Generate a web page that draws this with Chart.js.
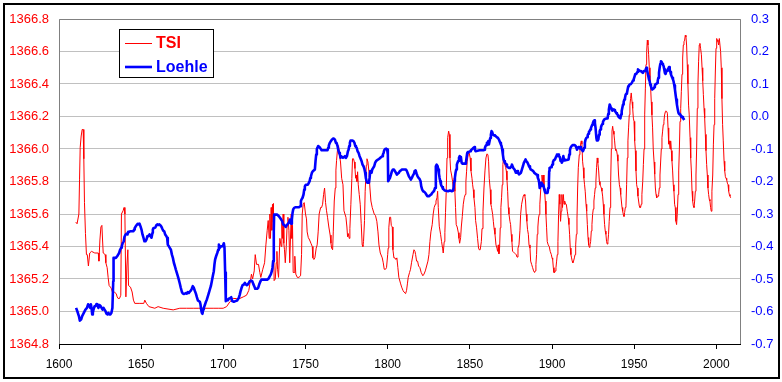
<!DOCTYPE html>
<html>
<head>
<meta charset="utf-8">
<title>TSI / Loehle</title>
<script src="https://cdn.jsdelivr.net/npm/chart.js@4.4.1/dist/chart.umd.min.js"></script>
<style>
  html, body { margin: 0; padding: 0; background: #fff; }
  canvas { display: block; }
</style>
</head>
<body>
<canvas id="chart" width="782" height="382"></canvas>
<script>
// tick labels
const xTicks = [1600, 1650, 1700, 1750, 1800, 1850, 1900, 1950, 2000];
const tsiTicks = [1364.8, 1365.0, 1365.2, 1365.4, 1365.6, 1365.8, 1366.0, 1366.2, 1366.4, 1366.6, 1366.8];
const loehleTicks = [-0.7, -0.6, -0.5, -0.4, -0.3, -0.2, -0.1, 0.0, 0.1, 0.2, 0.3];

// TSI (W/m2), [year, value]
const tsiPoints = [
  [1610.2,1365.55],[1611.0,1365.54],[1612.1,1365.60],[1612.5,1365.81],[1612.9,1366.01],[1613.5,1366.08],
  [1614.1,1366.12],[1614.7,1366.12],[1615.1,1365.94],[1615.5,1365.67],[1616.1,1365.48],[1616.7,1365.35],
  [1617.2,1365.35],[1617.9,1365.28],[1618.7,1365.36],[1619.8,1365.37],[1621.8,1365.36],[1623.9,1365.36],
  [1624.3,1365.31],[1624.9,1365.44],[1625.5,1365.52],[1626.1,1365.53],[1626.5,1365.44],[1626.9,1365.36],
  [1628.1,1365.35],[1628.5,1365.30],[1629.3,1365.27],[1629.9,1365.21],[1630.5,1365.16],[1631.3,1365.15],
  [1631.9,1365.14],[1632.5,1365.12],[1633.6,1365.12],[1634.8,1365.11],[1635.4,1365.09],[1636.0,1365.08],
  [1636.8,1365.08],[1637.6,1365.10],[1638.0,1365.60],[1639.0,1365.62],[1639.6,1365.64],[1640.1,1365.60],
  [1640.7,1365.09],[1641.3,1365.28],[1641.9,1365.38],[1642.3,1365.16],[1643.5,1365.15],[1644.5,1365.12],
  [1645.3,1365.07],[1646.1,1365.05],[1649.2,1365.05],[1651.6,1365.05],[1652.2,1365.07],[1653.2,1365.05],
  [1654.7,1365.03],[1658.3,1365.02],[1660.3,1365.03],[1663.4,1365.02],[1669.5,1365.01],[1673.5,1365.02],
  [1677.6,1365.02],[1681.7,1365.02],[1684.7,1365.02],[1687.7,1365.02],[1693.8,1365.02],[1696.9,1365.02],
  [1699.9,1365.02],[1702.0,1365.03],[1704.0,1365.06],[1705.0,1365.07],[1706.0,1365.08],[1708.0,1365.08],
  [1710.0,1365.08],[1712.1,1365.09],[1714.1,1365.10],[1715.5,1365.13],[1716.5,1365.19],[1717.1,1365.23],
  [1717.8,1365.20],[1718.8,1365.25],[1719.4,1365.35],[1720.2,1365.29],[1721.4,1365.29],[1722.2,1365.24],
  [1722.8,1365.21],[1724.0,1365.26],[1725.1,1365.30],[1725.9,1365.41],[1726.7,1365.50],[1727.3,1365.56],
  [1727.9,1365.45],[1728.3,1365.60],[1728.7,1365.45],[1729.1,1365.64],[1729.5,1365.50],[1729.9,1365.66],
  [1730.3,1365.55],[1730.5,1365.665],[1730.9,1365.19],[1731.6,1365.20],[1732.2,1365.30],[1732.6,1365.37],
  [1733.0,1365.26],[1733.6,1365.21],[1734.4,1365.45],[1735.2,1365.40],[1735.6,1365.55],[1736.0,1365.45],
  [1736.4,1365.60],[1736.8,1365.42],[1737.2,1365.38],[1737.7,1365.30],[1738.3,1365.40],[1738.8,1365.53],
  [1739.3,1365.58],[1739.9,1365.50],[1740.4,1365.30],[1741.3,1365.60],[1741.7,1365.45],[1742.1,1365.53],
  [1742.5,1365.24],[1743.1,1365.24],[1743.5,1365.34],[1744.1,1365.23],[1745.0,1365.21],[1746.0,1365.21],
  [1747.0,1365.22],[1747.6,1365.35],[1748.0,1365.60],[1748.6,1365.66],[1749.2,1365.67],[1750.0,1365.60],
  [1750.6,1365.57],[1751.0,1365.49],[1751.7,1365.455],[1752.5,1365.44],[1753.3,1365.42],[1754.1,1365.40],
  [1754.5,1365.33],[1755.1,1365.32],[1755.7,1365.33],[1756.5,1365.39],[1757.1,1365.41],[1757.7,1365.49],
  [1758.3,1365.60],[1759.2,1365.64],[1759.8,1365.64],[1760.4,1365.66],[1761.0,1365.72],[1761.6,1365.76],
  [1762.2,1365.67],[1762.8,1365.62],[1763.4,1365.58],[1764.2,1365.52],[1765.0,1365.47],[1765.5,1365.42],
  [1765.9,1365.39],[1766.5,1365.38],[1766.9,1365.49],[1767.5,1365.68],[1768.1,1365.76],[1768.5,1365.87],
  [1768.9,1365.93],[1769.5,1366.00],[1770.1,1366.02],[1770.7,1365.96],[1771.3,1365.92],[1772.0,1365.82],
  [1772.8,1365.78],[1773.4,1365.62],[1774.0,1365.60],[1774.6,1365.58],[1775.2,1365.52],[1775.6,1365.46],
  [1776.0,1365.48],[1776.6,1365.45],[1777.0,1365.51],[1777.6,1365.66],[1778.2,1365.82],[1778.6,1365.94],
  [1779.2,1365.94],[1779.7,1365.92],[1780.1,1365.88],[1780.5,1365.82],[1780.9,1365.84],[1781.3,1365.80],
  [1781.7,1365.86],[1782.1,1365.78],[1782.7,1365.72],[1783.3,1365.66],[1783.9,1365.54],[1784.5,1365.41],
  [1784.9,1365.40],[1785.3,1365.43],[1785.9,1365.56],[1786.3,1365.74],[1787.0,1365.90],[1787.4,1365.94],
  [1788.0,1365.92],[1788.6,1365.86],[1789.2,1365.76],[1789.8,1365.68],[1790.6,1365.64],[1791.8,1365.60],
  [1792.6,1365.59],[1793.4,1365.555],[1794.1,1365.49],[1794.7,1365.41],[1795.5,1365.36],[1796.7,1365.33],
  [1797.3,1365.30],[1797.9,1365.26],[1798.7,1365.26],[1799.3,1365.27],[1800.0,1365.35],[1800.3,1365.39],
  [1800.7,1365.515],[1801.2,1365.58],[1801.8,1365.58],[1802.2,1365.53],[1802.8,1365.52],[1803.2,1365.38],
  [1803.8,1365.33],[1804.4,1365.33],[1805.0,1365.32],[1805.6,1365.33],[1806.2,1365.27],[1806.8,1365.21],
  [1807.9,1365.17],[1808.5,1365.15],[1809.3,1365.13],[1809.9,1365.12],[1810.9,1365.11],[1811.5,1365.13],
  [1812.0,1365.17],[1812.5,1365.21],[1813.3,1365.24],[1813.9,1365.26],[1814.5,1365.30],[1815.4,1365.35],
  [1816.0,1365.38],[1816.6,1365.37],[1817.0,1365.35],[1817.6,1365.31],[1818.2,1365.31],[1818.8,1365.28],
  [1819.6,1365.27],[1820.4,1365.24],[1821.4,1365.22],[1822.1,1365.23],[1822.9,1365.25],[1823.7,1365.28],
  [1824.5,1365.31],[1825.1,1365.35],[1825.7,1365.43],[1826.3,1365.49],[1827.1,1365.535],[1827.7,1365.60],
  [1828.3,1365.64],[1829.0,1365.66],[1829.4,1365.68],[1830.0,1365.70],[1830.4,1365.74],[1830.8,1365.64],
  [1831.4,1365.525],[1832.2,1365.475],[1832.8,1365.43],[1833.4,1365.39],[1833.8,1365.36],[1834.4,1365.43],
  [1834.8,1365.485],[1835.2,1365.61],[1835.6,1365.73],[1836.1,1365.945],[1836.5,1366.07],[1837.1,1366.11],
  [1837.5,1366.09],[1837.9,1365.945],[1838.3,1365.87],[1838.9,1365.84],[1839.5,1365.80],[1840.1,1365.74],
  [1840.5,1365.82],[1840.9,1365.74],[1841.3,1365.64],[1841.7,1365.535],[1842.3,1365.52],[1843.0,1365.485],
  [1843.4,1365.45],[1843.8,1365.42],[1844.4,1365.455],[1844.8,1365.52],[1845.4,1365.585],[1846.0,1365.66],
  [1846.6,1365.70],[1847.2,1365.72],[1847.6,1365.80],[1848.0,1365.86],[1848.4,1365.925],[1849.0,1365.965],
  [1849.6,1365.975],[1850.2,1365.945],[1850.7,1365.865],[1851.3,1365.82],[1851.7,1365.78],[1852.1,1365.75],
  [1852.5,1365.70],[1853.1,1365.64],[1853.5,1365.56],[1854.1,1365.515],[1854.7,1365.45],[1855.3,1365.39],
  [1855.7,1365.38],[1856.3,1365.38],[1857.0,1365.43],[1857.4,1365.51],[1858.0,1365.617],[1858.6,1365.76],
  [1859.2,1365.865],[1859.8,1365.945],[1860.4,1365.97],[1861.0,1365.965],[1861.4,1365.925],[1861.8,1365.82],
  [1862.4,1365.75],[1862.8,1365.66],[1863.2,1365.64],[1863.9,1365.597],[1864.3,1365.555],[1864.7,1365.515],
  [1865.3,1365.475],[1865.9,1365.41],[1866.5,1365.39],[1866.9,1365.37],[1867.3,1365.41],[1867.7,1365.355],
  [1868.1,1365.39],[1868.5,1365.515],[1868.9,1365.64],[1869.3,1365.70],[1869.7,1365.78],[1870.1,1365.905],
  [1870.5,1365.945],[1870.9,1365.925],[1871.3,1365.905],[1871.8,1365.885],[1872.2,1365.865],[1872.6,1365.81],
  [1873.0,1365.74],[1873.4,1365.64],[1873.8,1365.60],[1874.4,1365.555],[1874.8,1365.535],[1875.2,1365.475],
  [1875.6,1365.43],[1876.0,1365.37],[1876.6,1365.365],[1877.2,1365.36],[1877.8,1365.355],[1878.2,1365.35],
  [1878.7,1365.335],[1879.3,1365.39],[1879.9,1365.41],[1880.5,1365.50],[1880.9,1365.597],[1881.5,1365.66],
  [1881.9,1365.68],[1882.5,1365.71],[1883.1,1365.72],[1883.5,1365.71],[1883.9,1365.68],[1884.3,1365.60],
  [1884.7,1365.555],[1885.1,1365.505],[1885.6,1365.475],[1886.0,1365.41],[1886.6,1365.39],[1887.0,1365.31],
  [1887.6,1365.29],[1888.2,1365.27],[1888.8,1365.25],[1889.4,1365.24],[1889.8,1365.25],[1890.2,1365.29],
  [1890.6,1365.35],[1891.0,1365.475],[1891.4,1365.52],[1891.8,1365.575],[1892.2,1365.597],[1892.6,1365.66],
  [1893.3,1365.78],[1893.9,1365.84],[1894.3,1365.80],[1894.7,1365.84],[1895.1,1365.78],[1895.5,1365.74],
  [1895.9,1365.68],[1896.3,1365.597],[1896.7,1365.515],[1897.1,1365.43],[1897.7,1365.41],[1898.3,1365.40],
  [1898.9,1365.37],[1899.6,1365.35],[1900.0,1365.33],[1900.4,1365.32],[1900.8,1365.27],[1901.2,1365.24],
  [1901.6,1365.24],[1902.0,1365.25],[1902.4,1365.27],[1902.8,1365.31],[1903.2,1365.35],[1903.6,1365.43],
  [1904.0,1365.597],[1904.4,1365.72],[1904.8,1365.66],[1905.2,1365.555],[1905.6,1365.617],[1906.0,1365.72],
  [1906.4,1365.64],[1906.9,1365.72],[1907.3,1365.66],[1907.7,1365.68],[1908.3,1365.66],[1908.7,1365.66],
  [1909.3,1365.617],[1909.9,1365.575],[1910.3,1365.535],[1910.7,1365.475],[1911.1,1365.39],[1911.5,1365.35],
  [1911.9,1365.33],[1912.3,1365.31],[1912.7,1365.30],[1913.1,1365.31],[1913.6,1365.33],[1914.0,1365.35],
  [1914.4,1365.41],[1914.8,1365.475],[1915.2,1365.575],[1915.6,1365.76],[1916.0,1365.885],[1916.6,1365.965],
  [1917.0,1366.00],[1917.4,1366.03],[1917.8,1366.05],[1918.2,1366.03],[1918.6,1365.925],[1919.0,1365.885],
  [1919.4,1365.82],[1919.8,1365.78],[1920.2,1365.74],[1920.7,1365.66],[1921.1,1365.617],[1921.5,1365.535],
  [1921.9,1365.455],[1922.3,1365.41],[1922.7,1365.395],[1923.1,1365.41],[1923.5,1365.43],[1923.9,1365.495],
  [1924.3,1365.535],[1924.7,1365.597],[1925.1,1365.63],[1925.5,1365.68],[1925.9,1365.72],[1926.3,1365.76],
  [1926.7,1365.80],[1927.1,1365.885],[1927.5,1365.945],[1927.9,1365.915],[1928.4,1365.865],[1928.8,1365.80],
  [1929.2,1365.78],[1929.6,1365.77],[1930.0,1365.76],[1930.4,1365.74],[1930.8,1365.71],[1931.2,1365.66],
  [1931.6,1365.597],[1932.0,1365.535],[1932.4,1365.495],[1932.8,1365.475],[1933.2,1365.43],[1933.6,1365.415],
  [1934.0,1365.43],[1934.4,1365.475],[1934.8,1365.555],[1935.3,1365.64],[1935.7,1365.80],[1936.1,1366.00],
  [1936.5,1366.11],[1936.9,1366.14],[1937.3,1366.11],[1937.7,1366.09],[1938.1,1366.05],[1938.5,1366.00],
  [1938.9,1365.99],[1939.3,1365.99],[1939.7,1365.965],[1940.1,1365.925],[1940.5,1365.84],[1941.0,1365.78],
  [1941.4,1365.76],[1941.8,1365.72],[1942.2,1365.68],[1942.6,1365.64],[1943.0,1365.617],[1943.4,1365.597],
  [1943.8,1365.585],[1944.2,1365.61],[1944.6,1365.64],[1945.0,1365.65],[1945.4,1365.78],[1945.8,1365.945],
  [1946.2,1366.05],[1946.6,1366.13],[1947.0,1366.21],[1947.4,1366.27],[1947.8,1366.31],[1948.2,1366.345],
  [1948.7,1366.29],[1949.1,1366.25],[1949.5,1366.19],[1949.9,1366.17],[1950.3,1366.05],[1950.7,1365.99],
  [1951.1,1365.865],[1951.5,1365.78],[1951.9,1365.76],[1952.3,1365.71],[1952.7,1365.68],[1953.1,1365.65],
  [1953.5,1365.64],[1953.9,1365.64],[1954.3,1365.66],[1954.7,1365.72],[1955.2,1365.80],[1955.6,1365.905],
  [1956.0,1366.00],[1956.4,1366.21],[1956.8,1366.37],[1957.2,1366.52],[1957.6,1366.60],[1958.0,1366.67],
  [1958.4,1366.64],[1958.8,1366.58],[1959.2,1366.50],[1959.6,1366.42],[1960.0,1366.38],[1960.4,1366.29],
  [1960.8,1366.21],[1961.2,1366.13],[1961.6,1366.00],[1962.1,1365.92],[1962.5,1365.845],[1962.9,1365.76],
  [1963.3,1365.72],[1963.7,1365.70],[1964.1,1365.705],[1964.5,1365.71],[1964.9,1365.72],[1965.3,1365.76],
  [1965.7,1365.84],[1966.1,1365.92],[1966.5,1366.00],[1966.9,1366.07],[1967.3,1366.11],[1967.7,1366.15],
  [1968.1,1366.17],[1968.5,1366.21],[1969.0,1366.23],[1969.3,1366.235],[1969.8,1366.23],[1970.2,1366.22],
  [1970.6,1366.13],[1971.0,1366.03],[1971.4,1366.05],[1971.8,1366.00],[1972.2,1366.05],[1972.6,1365.99],
  [1973.0,1365.925],[1973.4,1365.865],[1973.8,1365.78],[1974.2,1365.74],[1974.6,1365.66],[1975.0,1365.64],
  [1975.4,1365.555],[1975.8,1365.535],[1976.2,1365.597],[1976.7,1365.72],[1977.1,1365.865],[1977.5,1366.00],
  [1977.9,1366.17],[1978.3,1366.25],[1978.7,1366.355],[1979.1,1366.46],[1979.5,1366.56],[1979.9,1366.64],
  [1980.3,1366.66],[1980.7,1366.67],[1981.1,1366.70],[1981.5,1366.69],[1981.9,1366.64],[1982.3,1366.52],
  [1982.7,1366.40],[1983.1,1366.27],[1983.5,1366.21],[1984.0,1366.07],[1984.4,1365.945],[1984.8,1365.865],
  [1985.2,1365.74],[1985.6,1365.68],[1986.0,1365.65],[1986.4,1365.64],[1986.8,1365.68],[1987.2,1365.74],
  [1987.6,1365.84],[1988.0,1366.00],[1988.4,1366.25],[1988.8,1366.40],[1989.2,1366.54],[1989.6,1366.64],
  [1990.0,1366.65],[1990.4,1366.62],[1990.9,1366.58],[1991.3,1366.50],[1991.7,1366.42],[1992.1,1366.335],
  [1992.5,1366.25],[1992.9,1366.19],[1993.3,1366.09],[1993.7,1365.99],[1994.1,1365.905],[1994.5,1365.84],
  [1994.9,1365.76],[1995.3,1365.72],[1995.7,1365.69],[1996.1,1365.68],[1996.5,1365.64],[1996.9,1365.617],
  [1997.3,1365.74],[1997.8,1365.84],[1998.2,1366.03],[1998.6,1366.15],[1999.0,1366.31],[1999.4,1366.48],
  [1999.8,1366.62],[2000.2,1366.68],[2000.6,1366.67],[2001.0,1366.66],[2001.4,1366.64],[2001.8,1366.68],
  [2002.2,1366.68],[2002.6,1366.60],[2003.0,1366.50],[2003.4,1366.31],[2003.8,1366.15],[2004.2,1366.05],
  [2004.7,1365.925],[2005.1,1365.865],[2005.5,1365.83],[2005.9,1365.82],[2006.3,1365.81],[2006.7,1365.79],
  [2007.1,1365.78],[2007.5,1365.74],[2007.9,1365.72],[2008.3,1365.71],[2008.7,1365.70]
];

// Loehle reconstruction (anomaly, deg C), [year, value]
const loehlePoints = [
  [1610.4,-0.589],[1611.2,-0.600],[1612.1,-0.614],[1612.7,-0.628],[1613.5,-0.624],[1614.1,-0.614],
  [1615.1,-0.604],[1616.1,-0.594],[1617.0,-0.589],[1617.7,-0.578],[1618.4,-0.583],[1619.0,-0.589],
  [1619.4,-0.578],[1619.8,-0.589],[1620.2,-0.609],[1620.6,-0.604],[1621.0,-0.594],[1621.6,-0.584],
  [1622.2,-0.584],[1622.8,-0.577],[1623.4,-0.578],[1624.0,-0.589],[1624.6,-0.580],[1625.3,-0.583],
  [1625.9,-0.589],[1626.5,-0.594],[1627.1,-0.589],[1627.7,-0.594],[1628.3,-0.599],[1628.9,-0.607],
  [1629.5,-0.609],[1630.1,-0.604],[1630.7,-0.609],[1631.3,-0.609],[1631.9,-0.604],[1632.5,-0.589],
  [1633.0,-0.507],[1633.2,-0.435],[1633.8,-0.435],[1634.6,-0.435],[1635.4,-0.430],[1636.0,-0.425],
  [1636.6,-0.420],[1637.2,-0.410],[1637.8,-0.404],[1638.2,-0.399],[1638.8,-0.389],[1639.4,-0.384],
  [1639.8,-0.371],[1640.5,-0.363],[1641.1,-0.361],[1641.7,-0.363],[1642.1,-0.355],[1642.7,-0.355],
  [1643.3,-0.353],[1644.5,-0.353],[1645.3,-0.353],[1645.7,-0.348],[1646.1,-0.343],[1646.7,-0.338],
  [1647.4,-0.333],[1648.0,-0.330],[1648.6,-0.332],[1649.0,-0.330],[1649.6,-0.338],[1650.2,-0.348],
  [1650.8,-0.363],[1651.4,-0.373],[1652.0,-0.384],[1652.6,-0.384],[1653.2,-0.379],[1653.8,-0.368],
  [1654.5,-0.368],[1655.1,-0.363],[1655.7,-0.368],[1656.3,-0.373],[1656.9,-0.358],[1657.1,-0.348],
  [1657.5,-0.343],[1658.1,-0.343],[1658.7,-0.341],[1659.3,-0.334],[1659.9,-0.332],[1660.5,-0.334],
  [1661.1,-0.332],[1661.8,-0.335],[1662.4,-0.340],[1663.0,-0.347],[1663.4,-0.351],[1664.0,-0.353],
  [1664.6,-0.363],[1665.3,-0.368],[1665.8,-0.373],[1666.2,-0.394],[1666.8,-0.399],[1667.4,-0.404],
  [1668.1,-0.410],[1668.7,-0.425],[1669.3,-0.435],[1669.9,-0.450],[1670.5,-0.460],[1671.1,-0.471],
  [1671.7,-0.481],[1672.3,-0.491],[1672.9,-0.502],[1673.5,-0.514],[1674.1,-0.527],[1674.8,-0.540],
  [1675.4,-0.545],[1676.0,-0.546],[1676.6,-0.545],[1677.2,-0.543],[1677.8,-0.545],[1678.4,-0.540],
  [1679.0,-0.543],[1679.6,-0.539],[1680.2,-0.536],[1680.8,-0.530],[1681.4,-0.522],[1682.0,-0.527],
  [1682.7,-0.537],[1683.3,-0.545],[1683.9,-0.556],[1684.5,-0.566],[1685.1,-0.568],[1685.7,-0.570],
  [1686.1,-0.578],[1686.5,-0.594],[1686.9,-0.604],[1687.3,-0.607],[1687.7,-0.594],[1688.1,-0.589],
  [1688.7,-0.581],[1689.4,-0.570],[1690.0,-0.563],[1690.6,-0.553],[1691.2,-0.543],[1691.8,-0.532],
  [1692.4,-0.522],[1693.0,-0.507],[1693.6,-0.491],[1694.2,-0.476],[1694.6,-0.455],[1695.0,-0.440],
  [1695.6,-0.430],[1696.3,-0.420],[1696.9,-0.410],[1697.3,-0.394],[1697.9,-0.404],[1698.5,-0.400],
  [1699.1,-0.399],[1699.7,-0.399],[1700.3,-0.390],[1700.7,-0.404],[1701.1,-0.480],[1701.5,-0.568],
  [1702.1,-0.563],[1702.7,-0.566],[1703.4,-0.560],[1703.8,-0.560],[1704.8,-0.556],[1705.4,-0.568],
  [1706.4,-0.570],[1707.4,-0.568],[1708.4,-0.566],[1709.4,-0.558],[1710.0,-0.548],[1710.5,-0.537],
  [1711.1,-0.527],[1711.7,-0.519],[1712.5,-0.517],[1713.1,-0.512],[1713.7,-0.517],[1714.3,-0.519],
  [1714.9,-0.517],[1715.5,-0.512],[1716.1,-0.507],[1717.0,-0.505],[1717.6,-0.507],[1718.2,-0.515],
  [1718.8,-0.522],[1719.4,-0.530],[1720.0,-0.530],[1720.6,-0.530],[1721.2,-0.527],[1721.8,-0.517],
  [1722.6,-0.507],[1723.2,-0.502],[1723.8,-0.502],[1724.6,-0.502],[1725.7,-0.502],[1726.7,-0.502],
  [1727.5,-0.499],[1728.3,-0.491],[1728.9,-0.486],[1729.5,-0.476],[1729.9,-0.466],[1730.3,-0.445],
  [1730.7,-0.353],[1730.9,-0.302],[1731.8,-0.302],[1732.8,-0.302],[1733.8,-0.307],[1734.8,-0.314],
  [1735.8,-0.322],[1736.4,-0.332],[1737.0,-0.334],[1737.6,-0.337],[1738.0,-0.340],[1738.6,-0.334],
  [1739.3,-0.330],[1739.9,-0.327],[1740.5,-0.317],[1740.9,-0.322],[1741.3,-0.330],[1741.7,-0.317],
  [1742.1,-0.297],[1742.5,-0.286],[1743.1,-0.281],[1744.0,-0.279],[1745.0,-0.279],[1746.0,-0.279],
  [1746.8,-0.276],[1747.2,-0.260],[1747.6,-0.255],[1748.2,-0.250],[1748.8,-0.240],[1749.2,-0.225],
  [1749.6,-0.215],[1750.2,-0.210],[1751.4,-0.210],[1752.0,-0.204],[1752.5,-0.199],[1752.9,-0.189],
  [1753.3,-0.184],[1753.9,-0.173],[1754.5,-0.168],[1755.1,-0.166],[1755.7,-0.163],[1756.1,-0.137],
  [1756.5,-0.117],[1756.9,-0.100],[1757.3,-0.096],[1757.7,-0.091],[1758.1,-0.091],[1758.5,-0.094],
  [1759.2,-0.099],[1759.8,-0.104],[1760.4,-0.104],[1763.4,-0.104],[1763.8,-0.096],[1764.2,-0.089],
  [1764.8,-0.081],[1765.4,-0.076],[1766.1,-0.071],[1766.7,-0.068],[1767.3,-0.068],[1767.9,-0.071],
  [1768.5,-0.081],[1768.9,-0.081],[1769.5,-0.091],[1769.9,-0.102],[1770.5,-0.112],[1770.9,-0.117],
  [1771.3,-0.127],[1771.7,-0.122],[1772.1,-0.122],[1772.8,-0.127],[1773.4,-0.125],[1774.0,-0.122],
  [1774.6,-0.127],[1775.2,-0.122],[1775.8,-0.107],[1776.2,-0.102],[1776.6,-0.091],[1777.0,-0.081],
  [1777.4,-0.074],[1778.0,-0.074],[1778.6,-0.074],[1779.2,-0.076],[1779.8,-0.081],[1780.3,-0.091],
  [1780.7,-0.094],[1781.1,-0.096],[1781.7,-0.107],[1782.3,-0.112],[1782.9,-0.122],[1783.5,-0.129],
  [1784.1,-0.137],[1784.7,-0.148],[1785.3,-0.153],[1785.9,-0.163],[1786.3,-0.173],[1786.7,-0.189],
  [1787.2,-0.199],[1787.6,-0.204],[1788.0,-0.204],[1788.6,-0.204],[1789.0,-0.189],[1789.4,-0.168],
  [1789.8,-0.170],[1790.2,-0.173],[1790.6,-0.163],[1791.2,-0.158],[1791.8,-0.153],[1792.4,-0.142],
  [1793.0,-0.137],[1793.6,-0.134],[1794.3,-0.132],[1794.9,-0.130],[1795.5,-0.127],[1796.1,-0.125],
  [1796.7,-0.122],[1797.1,-0.117],[1797.5,-0.112],[1797.9,-0.104],[1798.5,-0.100],[1799.1,-0.099],
  [1799.7,-0.102],[1800.1,-0.117],[1800.3,-0.199],[1800.7,-0.199],[1801.4,-0.189],[1802.0,-0.179],
  [1802.6,-0.168],[1803.2,-0.163],[1803.8,-0.163],[1804.4,-0.168],[1805.0,-0.173],[1805.6,-0.179],
  [1806.2,-0.176],[1806.8,-0.173],[1807.4,-0.168],[1808.1,-0.166],[1808.7,-0.163],[1811.1,-0.163],
  [1811.7,-0.168],[1812.3,-0.176],[1812.9,-0.184],[1813.5,-0.189],[1814.1,-0.194],[1814.7,-0.189],
  [1815.4,-0.181],[1816.0,-0.176],[1816.4,-0.168],[1817.0,-0.166],[1817.6,-0.176],[1818.2,-0.184],
  [1818.8,-0.189],[1819.4,-0.192],[1820.0,-0.199],[1820.4,-0.214],[1821.0,-0.225],[1821.6,-0.230],
  [1822.3,-0.232],[1822.9,-0.235],[1823.5,-0.240],[1824.1,-0.245],[1825.3,-0.245],[1825.9,-0.242],
  [1826.5,-0.240],[1827.1,-0.235],[1827.7,-0.232],[1828.3,-0.228],[1828.8,-0.220],[1829.2,-0.189],
  [1829.4,-0.153],[1829.8,-0.148],[1830.4,-0.153],[1830.8,-0.163],[1831.2,-0.176],[1831.6,-0.189],
  [1832.0,-0.199],[1832.4,-0.209],[1832.8,-0.214],[1833.2,-0.217],[1833.6,-0.222],[1834.2,-0.225],
  [1834.8,-0.228],[1836.7,-0.230],[1837.9,-0.228],[1839.1,-0.230],[1839.7,-0.228],[1840.1,-0.220],
  [1840.5,-0.199],[1840.9,-0.189],[1841.3,-0.173],[1841.7,-0.163],[1842.1,-0.148],[1842.5,-0.142],
  [1842.9,-0.137],[1843.4,-0.127],[1843.8,-0.122],[1844.2,-0.125],[1844.6,-0.127],[1845.0,-0.142],
  [1845.4,-0.145],[1847.2,-0.145],[1847.6,-0.142],[1848.0,-0.127],[1848.4,-0.112],[1848.8,-0.109],
  [1849.4,-0.109],[1850.1,-0.107],[1850.6,-0.104],[1851.1,-0.102],[1851.7,-0.099],[1852.3,-0.096],
  [1852.7,-0.094],[1853.1,-0.102],[1853.5,-0.107],[1855.9,-0.104],[1858.4,-0.104],[1858.8,-0.102],
  [1859.2,-0.096],[1859.6,-0.091],[1860.0,-0.088],[1860.4,-0.081],[1860.8,-0.081],[1861.2,-0.076],
  [1861.6,-0.086],[1862.0,-0.076],[1862.4,-0.066],[1862.8,-0.056],[1863.2,-0.045],[1863.6,-0.048],
  [1864.1,-0.056],[1864.7,-0.058],[1865.3,-0.059],[1865.9,-0.061],[1866.5,-0.064],[1867.1,-0.066],
  [1867.7,-0.071],[1868.1,-0.076],[1868.5,-0.081],[1868.9,-0.086],[1869.3,-0.091],[1869.7,-0.102],
  [1870.1,-0.117],[1870.5,-0.132],[1870.9,-0.137],[1871.3,-0.142],[1871.8,-0.145],[1872.2,-0.148],
  [1872.6,-0.153],[1873.0,-0.156],[1873.8,-0.158],[1874.6,-0.158],[1875.2,-0.153],[1875.6,-0.148],
  [1876.0,-0.153],[1876.4,-0.158],[1877.2,-0.163],[1877.6,-0.168],[1878.0,-0.173],[1878.5,-0.173],
  [1878.9,-0.168],[1879.3,-0.173],[1879.9,-0.178],[1880.5,-0.176],[1881.1,-0.173],[1881.7,-0.163],
  [1882.3,-0.153],[1882.9,-0.142],[1883.5,-0.137],[1883.9,-0.132],[1884.3,-0.137],[1884.7,-0.137],
  [1885.1,-0.142],[1885.6,-0.148],[1886.0,-0.153],[1886.6,-0.158],[1887.0,-0.163],[1888.0,-0.166],
  [1888.6,-0.168],[1889.2,-0.173],[1889.8,-0.176],[1890.4,-0.178],[1891.0,-0.180],[1891.4,-0.189],
  [1891.8,-0.194],[1892.2,-0.204],[1892.5,-0.220],[1892.9,-0.214],[1893.3,-0.204],[1893.7,-0.209],
  [1894.1,-0.214],[1894.5,-0.209],[1894.9,-0.214],[1895.3,-0.225],[1895.7,-0.232],[1896.1,-0.235],
  [1897.3,-0.235],[1897.7,-0.220],[1898.1,-0.199],[1898.3,-0.168],[1898.5,-0.158],[1899.4,-0.156],
  [1899.8,-0.153],[1900.2,-0.148],[1900.6,-0.140],[1901.0,-0.135],[1901.8,-0.132],[1902.2,-0.127],
  [1902.6,-0.122],[1903.0,-0.117],[1903.8,-0.117],[1904.2,-0.122],[1904.8,-0.125],[1905.2,-0.137],
  [1905.6,-0.137],[1906.0,-0.142],[1906.4,-0.137],[1906.9,-0.122],[1907.3,-0.132],[1907.7,-0.135],
  [1908.9,-0.134],[1910.1,-0.132],[1910.5,-0.117],[1910.9,-0.104],[1911.3,-0.096],[1911.9,-0.091],
  [1912.5,-0.088],[1913.7,-0.088],[1914.4,-0.091],[1914.8,-0.096],[1915.2,-0.102],[1915.6,-0.096],
  [1916.0,-0.094],[1916.4,-0.096],[1916.8,-0.098],[1917.2,-0.094],[1917.6,-0.098],[1918.0,-0.102],
  [1918.4,-0.104],[1918.8,-0.107],[1919.2,-0.102],[1919.6,-0.096],[1920.0,-0.081],[1920.4,-0.071],
  [1920.9,-0.066],[1921.3,-0.064],[1921.7,-0.058],[1922.1,-0.053],[1922.5,-0.047],[1922.9,-0.045],
  [1923.3,-0.040],[1923.7,-0.035],[1924.1,-0.030],[1924.5,-0.025],[1924.9,-0.020],[1925.3,-0.014],
  [1925.7,-0.012],[1926.1,-0.020],[1926.5,-0.035],[1927.0,-0.066],[1927.3,-0.074],[1927.8,-0.074],
  [1928.2,-0.071],[1928.6,-0.056],[1929.0,-0.045],[1929.4,-0.040],[1929.8,-0.033],[1930.2,-0.027],
  [1930.6,-0.023],[1931.0,-0.017],[1931.4,-0.012],[1931.8,-0.009],[1932.2,-0.009],[1932.6,-0.007],
  [1933.2,-0.006],[1933.8,-0.006],[1934.2,0.008],[1934.6,0.022],[1935.1,0.037],[1935.5,0.032],
  [1935.9,0.025],[1936.3,0.022],[1936.7,0.018],[1937.1,0.018],[1937.5,0.022],[1937.9,0.020],
  [1938.3,0.017],[1938.7,0.014],[1939.1,0.011],[1939.5,0.008],[1939.9,0.006],[1940.3,0.001],
  [1940.7,-0.002],[1941.2,-0.004],[1941.6,-0.006],[1942.0,0.006],[1942.4,0.017],[1942.8,0.027],
  [1943.2,0.037],[1943.6,0.045],[1944.0,0.052],[1944.4,0.057],[1944.8,0.067],[1945.2,0.070],
  [1945.6,0.072],[1946.0,0.083],[1946.4,0.093],[1946.8,0.096],[1947.2,0.098],[1948.0,0.100],
  [1948.5,0.103],[1948.9,0.107],[1949.3,0.111],[1949.7,0.114],[1950.3,0.124],[1950.7,0.131],
  [1951.3,0.131],[1951.9,0.137],[1952.3,0.145],[1952.9,0.142],[1953.5,0.140],[1954.1,0.140],
  [1954.7,0.137],[1955.3,0.134],[1955.9,0.140],[1956.6,0.140],[1957.0,0.145],[1957.4,0.150],
  [1957.8,0.145],[1958.2,0.134],[1958.6,0.124],[1959.0,0.114],[1959.4,0.109],[1959.8,0.098],
  [1960.2,0.093],[1960.6,0.086],[1961.0,0.083],[1961.4,0.083],[1961.8,0.086],[1962.2,0.090],
  [1962.6,0.096],[1963.1,0.100],[1963.5,0.100],[1963.9,0.103],[1964.3,0.109],[1964.7,0.119],
  [1965.1,0.134],[1965.5,0.150],[1965.9,0.162],[1966.3,0.170],[1966.7,0.168],[1967.1,0.162],
  [1967.5,0.160],[1967.9,0.155],[1968.3,0.145],[1968.7,0.134],[1969.1,0.131],[1969.6,0.139],
  [1970.0,0.141],[1970.4,0.145],[1970.8,0.148],[1971.2,0.152],[1971.6,0.145],[1972.0,0.137],
  [1972.4,0.129],[1972.8,0.124],[1973.2,0.119],[1973.6,0.114],[1974.0,0.107],[1974.4,0.096],
  [1974.8,0.083],[1975.2,0.067],[1975.6,0.052],[1976.0,0.037],[1976.5,0.022],[1976.9,0.012],
  [1977.3,0.008],[1977.7,0.006],[1978.1,0.006],[1978.5,0.001],[1978.9,-0.002],[1979.3,-0.002],
  [1979.7,-0.004],[1980.1,-0.008],[1980.5,-0.011]
];

const FONT = "'Liberation Sans', Arial, sans-serif";
Chart.defaults.font.family = FONT;

function toXY(points){
  return points.map(p => ({ x: p[0], y: p[1] }));
}

// white background, outer frame, plot frame and the boxed legend
const frame = {
  id: 'frame',
  beforeDraw(chart){
    const ctx = chart.ctx;
    ctx.save();
    ctx.fillStyle = '#fff';
    ctx.fillRect(0, 0, chart.width, chart.height);
    ctx.restore();
  },
  beforeDatasetsDraw(chart){
    const {ctx, chartArea: a} = chart;
    ctx.save();
    ctx.lineWidth = 1;
    ctx.strokeStyle = '#808080';
    ctx.beginPath();
    ctx.moveTo(a.left + 0.5, a.bottom);
    ctx.lineTo(a.left + 0.5, a.top + 0.5);
    ctx.lineTo(a.right - 0.5, a.top + 0.5);
    ctx.lineTo(a.right - 0.5, a.bottom);
    ctx.stroke();
    ctx.strokeStyle = '#000';
    ctx.beginPath();
    ctx.moveTo(a.left, a.bottom + 0.5);
    ctx.lineTo(a.right, a.bottom + 0.5);
    ctx.stroke();
    ctx.restore();
  },
  afterDraw(chart){
    const ctx = chart.ctx;
    ctx.save();
    ctx.lineWidth = 2;
    ctx.strokeStyle = '#000';
    ctx.strokeRect(4, 4, 775, 374);

    // legend
    ctx.fillStyle = '#fff';
    ctx.fillRect(119.5, 29.5, 94, 48);
    ctx.lineWidth = 1;
    ctx.strokeRect(119.5, 29.5, 94, 48);
    ctx.font = 'bold 16px ' + FONT;
    ctx.textBaseline = 'alphabetic';
    const rows = [[0, 43.5, 47.5], [1, 67, 72]];
    rows.forEach(([i, ly, ty]) => {
      const ds = chart.data.datasets[i];
      ctx.strokeStyle = ds.borderColor;
      ctx.lineWidth = ds.borderWidth;
      ctx.beginPath();
      ctx.moveTo(125, ly);
      ctx.lineTo(152, ly);
      ctx.stroke();
      ctx.fillStyle = ds.borderColor;
      ctx.fillText(ds.label, 156, ty);
    });
    ctx.restore();
  }
};

new Chart(document.getElementById('chart'), {
  type: 'line',
  data: {
    datasets: [
      {
        label: 'TSI',
        data: toXY(tsiPoints),
        borderColor: '#ff0000',
        borderWidth: 1,
        pointRadius: 0,
        tension: 0,
        yAxisID: 'y',
        order: 2
      },
      {
        label: 'Loehle',
        data: toXY(loehlePoints),
        borderColor: '#0000ff',
        borderWidth: 2.6,
        borderJoinStyle: 'round',
        pointRadius: 0,
        tension: 0,
        yAxisID: 'y1',
        order: 1
      }
    ]
  },
  options: {
    responsive: false,
    animation: false,
    events: [],
    layout: { padding: { top: 19, left: 0, right: 0, bottom: 0 } },
    plugins: {
      legend: { display: false },
      tooltip: { enabled: false }
    },
    scales: {
      x: {
        type: 'linear',
        min: 1600,
        max: 2015,
        afterBuildTicks: s => { s.ticks = xTicks.map(v => ({ value: v })); },
        afterFit: s => { s.height = 38; },
        border: { display: false },
        grid: { drawOnChartArea: false, drawTicks: true, tickLength: 5, color: '#000' },
        ticks: {
          color: '#000',
          font: { size: 12 },
          padding: 8,
          maxRotation: 0,
          callback: v => String(v)
        }
      },
      y: {
        position: 'left',
        min: 1364.8,
        max: 1366.8,
        afterBuildTicks: s => { s.ticks = tsiTicks.map(v => ({ value: v })); },
        afterFit: s => { s.width = 59; },
        border: { display: false },
        grid: { color: '#c0c0c0', drawTicks: false },
        ticks: {
          color: '#ff0000',
          font: { size: 13 },
          padding: 10,
          callback: v => Number(v).toFixed(1)
        }
      },
      y1: {
        position: 'right',
        min: -0.7,
        max: 0.3,
        afterBuildTicks: s => { s.ticks = loehleTicks.map(v => ({ value: v })); },
        afterFit: s => { s.width = 41; },
        border: { display: false },
        grid: { display: false, drawTicks: false },
        ticks: {
          color: '#0000ff',
          font: { size: 13 },
          padding: 10,
          callback: v => Number(v).toFixed(1)
        }
      }
    }
  },
  plugins: [frame]
});
</script>
</body>
</html>
